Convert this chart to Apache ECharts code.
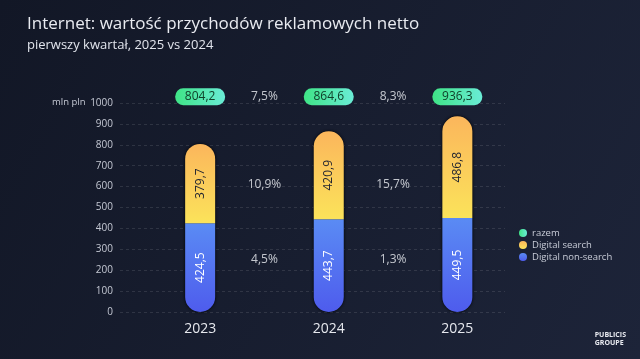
<!DOCTYPE html>
<html>
<head>
<meta charset="utf-8">
<script src="https://cdn.jsdelivr.net/npm/echarts@6/dist/echarts.min.js"></script>
<style>html,body{margin:0;padding:0;background:#151a2b}#c{width:640px;height:359px}</style>
</head>
<body>
<div id="c"></div>
<script>
const years = ['2023', '2024', '2025'];
const nonSearch = [424.5, 443.7, 449.5];
const search = [379.7, 420.9, 486.8];
const totals = [804.2, 864.6, 936.3];
const growthTotal = ['7,5%', '8,3%'];
const growthSearch = ['10,9%', '15,7%'];
const growthNonSearch = ['4,5%', '1,3%'];
const yTicks = [0, 100, 200, 300, 400, 500, 600, 700, 800, 900, 1000];

// interleave years with gap slots (gap slots hold the growth labels)
const slots = [];
years.forEach((y, i) => { slots.push(y); if (i < years.length - 1) slots.push(''); });
const atYears = arr => slots.map((s, i) => (i % 2 === 0 ? arr[i / 2] : '-'));
const fmt = v => v.toFixed(1).replace('.', ',');

const chart = echarts.init(document.getElementById('c'));
const G = echarts.graphic.LinearGradient;
const font = '"Open Sans", "DejaVu Sans", sans-serif';

// label anchor levels (value units) for text rows
const topRow = 1030, midRow = 608, lowRow = 249;
const growthRow = (arr, lvl) => arr.map((t, i) => [i * 2 + 1, lvl, t]);

chart.setOption({
  backgroundColor: new G(0, 0, 1, 1, [{offset: 0, color: '#121726'}, {offset: 1, color: '#1d2439'}]),
  textStyle: {fontFamily: font},
  title: {
    text: 'Internet: wartość przychodów reklamowych netto',
    subtext: 'pierwszy kwartał, 2025 vs 2024',
    left: 22, top: 11, itemGap: 6,
    textStyle: {color: '#e9ebf1', fontSize: 17, fontWeight: 'normal', fontFamily: font},
    subtextStyle: {color: '#e1e4ec', fontSize: 13, fontFamily: font}
  },
  legend: {
    data: ['razem', 'Digital search', 'Digital non-search'],
    orient: 'vertical', left: 514, top: 223, icon: 'circle',
    itemWidth: 8, itemHeight: 8, itemGap: 2,
    textStyle: {color: '#c9cdd8', fontSize: 9.5, fontFamily: font}
  },
  grid: [
    {left: 120, right: 135, top: 103, bottom: 47},
    {left: 168, right: 150.5, top: 103, bottom: 47}
  ],
  xAxis: [
    {gridIndex: 0, type: 'value', min: 0, max: 1, show: false},
    {gridIndex: 1, type: 'category', data: slots,
      axisLine: {show: false}, axisTick: {show: false},
      axisLabel: {interval: 0, color: '#e6e8ee', fontSize: 14, margin: 10, fontFamily: font}}
  ],
  yAxis: [
    {gridIndex: 0, type: 'value', min: yTicks[0], max: yTicks[yTicks.length - 1], interval: 100,
      axisLine: {show: false}, axisTick: {show: false},
      axisLabel: {color: '#c4c8d3', fontSize: 10, margin: 7, fontFamily: font, formatter: v => String(v)},
      splitLine: {lineStyle: {color: 'rgba(255,255,255,0.11)', type: [3, 3]}}},
    {gridIndex: 1, type: 'value', min: 0, max: 1000, show: false, splitLine: {show: false}}
  ],
  graphic: [
    {type: 'text', left: 52, top: 97, style: {text: 'mln pln', fill: '#c4c8d3', fontSize: 9.5, fontFamily: font}},
    {type: 'text', right: 14, top: 331, style: {text: 'PUBLICIS\nGROUPE', fill: '#e8eaf0', fontSize: 7, fontWeight: 'bold', align: 'center', lineHeight: 8, fontFamily: font}}
  ],
  series: [
    {
      name: 'outline', type: 'bar', xAxisIndex: 1, yAxisIndex: 1, barGap: '-100%',
      barWidth: 30, data: atYears(totals), silent: true,
      itemStyle: {borderRadius: 15, color: '#0b0f1b', borderColor: '#0b0f1b', borderWidth: 2,
        shadowBlur: 3, shadowColor: 'rgba(0,0,0,0.8)'}
    },
    {
      name: 'Digital non-search', type: 'bar', stack: 'a', xAxisIndex: 1, yAxisIndex: 1,
      barWidth: 30, barGap: '-100%', data: atYears(nonSearch),
      itemStyle: {borderRadius: [0, 0, 15, 15], color: new G(0, 0, 0, 1, [{offset: 0, color: '#5a8bf4'}, {offset: 1, color: '#4e5ced'}])},
      label: {show: true, position: 'inside', rotate: 90, color: '#ffffff', fontSize: 12, formatter: p => fmt(p.value), fontFamily: font}
    },
    {
      name: 'Digital search', type: 'bar', stack: 'a', xAxisIndex: 1, yAxisIndex: 1,
      barWidth: 30, barGap: '-100%', data: atYears(search),
      itemStyle: {borderRadius: [15, 15, 0, 0], color: new G(0, 0, 0, 1, [{offset: 0, color: '#fbb65c'}, {offset: 1, color: '#fbe35a'}])},
      label: {show: true, position: 'inside', rotate: 90, color: '#1e2230', fontSize: 12, formatter: p => fmt(p.value), fontFamily: font}
    },
    {
      name: 'razem', type: 'scatter', xAxisIndex: 1, yAxisIndex: 1, clip: false,
      symbol: 'path://M8,0 H42 A8,8 0 0 1 42,16 H8 A8,8 0 0 1 8,0 Z', symbolKeepAspect: false,
      symbolSize: [50, 17],
      data: totals.map((t, i) => [i * 2, topRow, t]),
      itemStyle: {opacity: 1, color: new G(0, 0, 1, 0, [{offset: 0, color: '#3fe486'}, {offset: 1, color: '#6aecd6'}])},
      label: {show: true, position: 'inside', color: '#10402a', fontSize: 12, formatter: p => fmt(p.value[2]), fontFamily: font},
      emphasis: {disabled: true}
    },
    {
      name: 'growth', type: 'scatter', xAxisIndex: 1, yAxisIndex: 1, clip: false,
      symbolSize: 1, itemStyle: {color: 'rgba(0,0,0,0)'},
      data: [].concat(growthRow(growthTotal, topRow), growthRow(growthSearch, midRow), growthRow(growthNonSearch, lowRow)),
      label: {show: true, position: 'inside', color: '#eef0f5', fontSize: 12, formatter: p => p.value[2], fontFamily: font},
      emphasis: {disabled: true}
    }
  ]
});
</script>
</body>
</html>
